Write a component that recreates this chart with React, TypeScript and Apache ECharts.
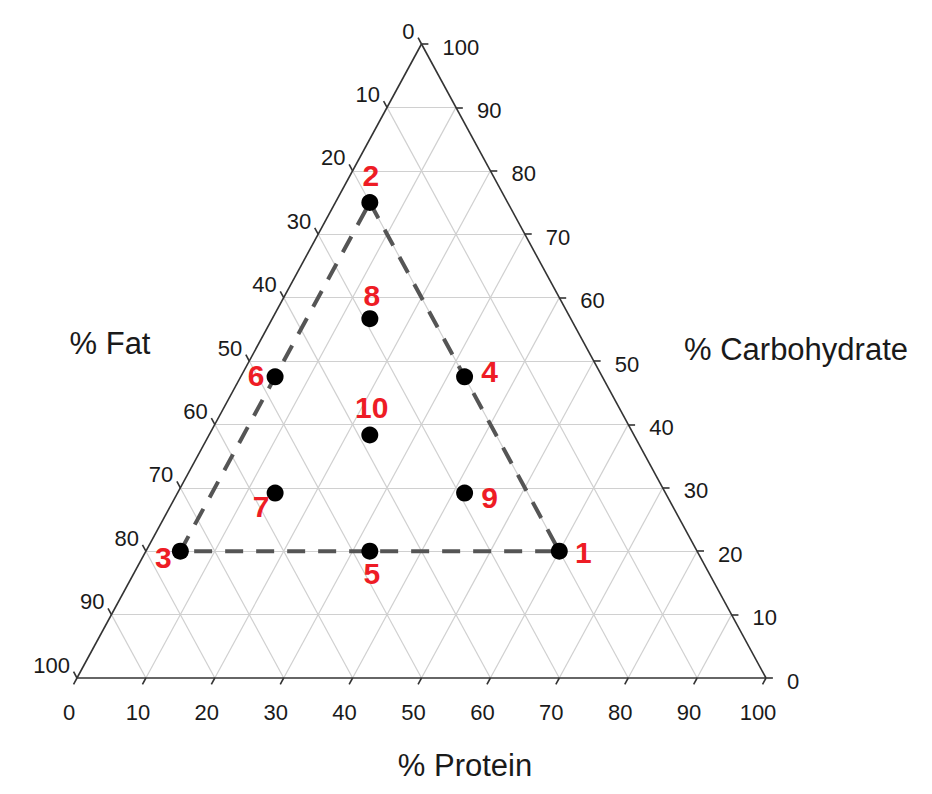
import React, { useEffect, useRef } from "react";
import * as echarts from "echarts";

// Design points (percent composition)
const pointIds = ["1", "2", "3", "4", "5", "6", "7", "8", "9", "10"];
const protein = [60, 5, 5, 32.5, 32.5, 5, 14.17, 14.17, 41.67, 23.33];
const fat = [20, 20, 75, 20, 47.5, 47.5, 56.67, 29.17, 29.17, 38.33];
const carbohydrate = [20, 75, 20, 47.5, 20, 47.5, 29.17, 56.67, 29.17, 38.33];

// Dashed constraint region: vertices (by point id) in drawing order
const regionIds = ["2", "1", "3", "2"];

// Axis tick values
const tickValues = [0, 10, 20, 30, 40, 50, 60, 70, 80, 90, 100];
const gridValues = [10, 20, 30, 40, 50, 60, 70, 80, 90];

const axisTitles = { fat: "% Fat", carbohydrate: "% Carbohydrate", protein: "% Protein" };

// ternary (protein, carbohydrate) -> cartesian data coordinates
const toXY = (p: number, c: number): [number, number] => [p / 100 + c / 200, c / 100];

const FONT = "'Liberation Sans', Arial, Helvetica, sans-serif";

const labelLayout: Record<string, { offset: [number, number] }> = {
  "1": { offset: [24, 1] },
  "2": { offset: [1, -27] },
  "3": { offset: [-17, 6] },
  "4": { offset: [25, -5] },
  "5": { offset: [2, 22] },
  "6": { offset: [-19, -1] },
  "7": { offset: [-14, 13] },
  "8": { offset: [2, -23] },
  "9": { offset: [25, 4] },
  "10": { offset: [2, -27] },
};

export default function App() {
  const ref = useRef<HTMLDivElement>(null);

  useEffect(() => {
    if (!ref.current) return;
    const chart = echarts.init(ref.current, undefined, { renderer: "svg" });

    // grid lines
    const gridLines: any[] = [];
    gridValues.forEach((k) => {
      gridLines.push({ coords: [toXY(0, k), toXY(100 - k, k)] }); // constant carb
      gridLines.push({ coords: [toXY(k, 0), toXY(k, 100 - k)] }); // constant protein
      gridLines.push({ coords: [toXY(100 - k, 0), toXY(0, 100 - k)] }); // constant fat
    });

    const T = 1.0; // tick length in percent units
    const tickLines: any[] = [];
    tickValues.forEach((k) => {
      tickLines.push({ coords: [toXY(k, 0), toXY(k, -T)] }); // bottom (protein)
      tickLines.push({ coords: [toXY(100 - k, k), toXY(100 - k + T, k)] }); // right (carb)
      tickLines.push({ coords: [toXY(0, 100 - k), toXY(-T, 100 - k + T)] }); // left (fat)
    });

    const edges = [
      { coords: [toXY(0, 0), toXY(100, 0)] },
      { coords: [toXY(100, 0), toXY(0, 100)] },
      { coords: [toXY(0, 100), toXY(0, 0)] },
    ];

    const regionCoords = regionIds.map((id) => {
      const i = pointIds.indexOf(id);
      return toXY(protein[i], carbohydrate[i]);
    });

    const tickLabelStyle = {
      show: true,
      position: "inside" as const,
      formatter: "{b}",
      color: "#1a1a1a",
      fontSize: 22,
      fontFamily: FONT,
      verticalAlign: "middle" as const,
    };

    const bottomLabels = tickValues.map((k) => ({ name: String(k), value: toXY(k, 0) }));
    const rightLabels = tickValues.map((k) => ({ name: String(k), value: toXY(100 - k, k) }));
    const leftLabels = tickValues.map((k) => ({ name: String(k), value: toXY(0, 100 - k) }));

    const points = pointIds.map((id, i) => ({
      name: id,
      value: toXY(protein[i], carbohydrate[i]),
      label: { offset: labelLayout[id].offset },
    }));

    const labelSeries = (data: any[], extra: any) => ({
      type: "scatter",
      clip: false,
      silent: true,
      symbolSize: 0,
      itemStyle: { opacity: 1 },
      data,
      label: { ...tickLabelStyle, ...extra },
      z: 5,
    });

    chart.setOption({
      animation: false,
      grid: { left: 77, right: 166, top: 44, bottom: 116 },
      xAxis: { type: "value", min: 0, max: 1, show: false },
      yAxis: { type: "value", min: 0, max: 1, show: false },
      graphic: [
        {
          type: "text",
          x: 110,
          y: 343,
          style: { text: axisTitles.fat, font: `31px ${FONT}`, fill: "#1a1a1a", textAlign: "center", textVerticalAlign: "middle" },
        },
        {
          type: "text",
          x: 796,
          y: 349,
          style: { text: axisTitles.carbohydrate, font: `31px ${FONT}`, fill: "#1a1a1a", textAlign: "center", textVerticalAlign: "middle" },
        },
        {
          type: "text",
          x: 465,
          y: 765,
          style: { text: axisTitles.protein, font: `31px ${FONT}`, fill: "#1a1a1a", textAlign: "center", textVerticalAlign: "middle" },
        },
      ],
      series: [
        {
          type: "lines",
          coordinateSystem: "cartesian2d",
          clip: false,
          silent: true,
          data: gridLines,
          lineStyle: { color: "#d0d0d0", width: 1.2, opacity: 1 },
          z: 1,
        },
        {
          type: "lines",
          coordinateSystem: "cartesian2d",
          clip: false,
          silent: true,
          data: edges,
          lineStyle: { color: "#333", width: 1.6, opacity: 1 },
          z: 2,
        },
        {
          type: "lines",
          coordinateSystem: "cartesian2d",
          clip: false,
          silent: true,
          data: tickLines,
          lineStyle: { color: "#333", width: 1.6, opacity: 1 },
          z: 2,
        },
        {
          type: "line",
          clip: false,
          silent: true,
          data: regionCoords,
          symbol: "none",
          lineStyle: { color: "#555", width: 4, type: [18, 13], opacity: 1 },
          z: 3,
        },
        labelSeries(bottomLabels, { align: "center", offset: [-8, 34] }),
        labelSeries(rightLabels, { align: "left", offset: [21, 3] }),
        labelSeries(leftLabels, { align: "right", offset: [-7, -13] }),
        {
          type: "scatter",
          clip: false,
          silent: true,
          symbol: "circle",
          symbolSize: 17,
          itemStyle: { color: "#000", opacity: 1 },
          data: points,
          z: 4,
          label: {
            show: true,
            position: "inside",
            formatter: "{b}",
            color: "#ee1c25",
            fontSize: 30,
            fontWeight: "bold",
            fontFamily: FONT,
            align: "center",
            verticalAlign: "middle",
          },
        },
      ],
    });

    return () => chart.dispose();
  }, []);

  return (
    <div
      ref={ref}
      style={{ position: "fixed", left: 0, top: 0, width: 932, height: 794, background: "#fff" }}
    />
  );
}
